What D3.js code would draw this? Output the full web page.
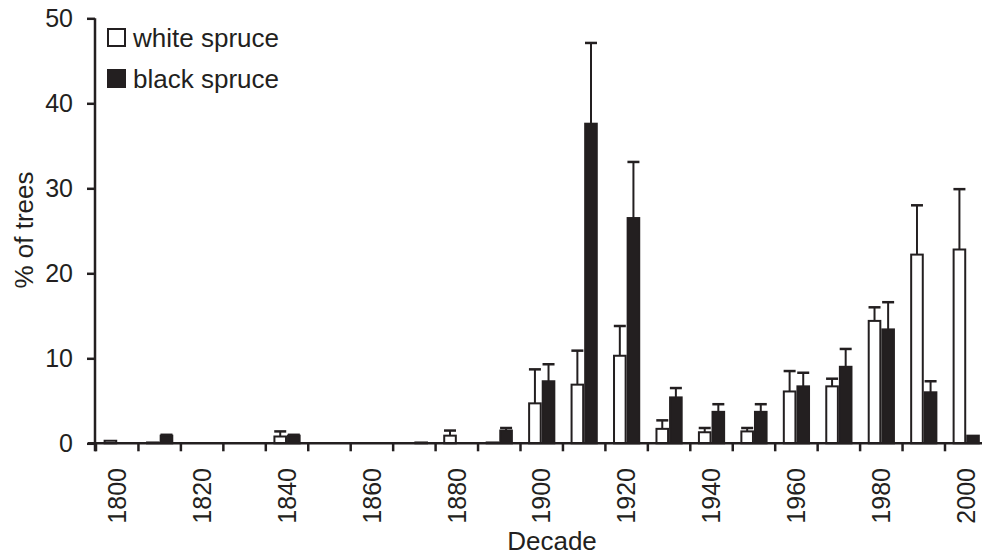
<!DOCTYPE html>
<html>
<head>
<meta charset="utf-8">
<script src="https://d3js.org/d3.v7.min.js"></script>
<style>
  html, body { margin: 0; padding: 0; background: #fff; }
  svg { display: block; }
  text { font-family: "Liberation Sans", Arial, Helvetica, sans-serif; fill: #231f20; }
</style>
</head>
<body>
<svg id="chart" width="982" height="556"></svg>
<script>
const decades = [1800, 1810, 1820, 1830, 1840, 1850, 1860, 1870, 1880, 1890, 1900,
                 1910, 1920, 1930, 1940, 1950, 1960, 1970, 1980, 1990, 2000];
const tickLabels = [1800, 1820, 1840, 1860, 1880, 1900, 1920, 1940, 1960, 1980, 2000];
const seriesNames = ["white spruce", "black spruce"];
const whiteSpruce    = [0.3, 0.1, 0, 0, 0.8, 0, 0, 0, 0.9, 0.1, 4.7, 6.9, 10.3, 1.7, 1.3, 1.4, 6.1, 6.7, 14.4, 22.2, 22.8];
const whiteSpruceErr = [0, 0, 0, 0, 0.6, 0, 0, 0, 0.6, 0, 4.0, 4.0, 3.5, 1.0, 0.5, 0.4, 2.4, 0.9, 1.6, 5.8, 7.1];
const blackSpruce    = [0, 0.9, 0, 0, 0.9, 0, 0, 0.1, 0, 1.5, 7.3, 37.6, 26.5, 5.4, 3.7, 3.7, 6.7, 9.0, 13.4, 6.0, 0.9];
const blackSpruceErr = [0, 0.1, 0, 0, 0.1, 0, 0, 0, 0, 0.3, 2.0, 9.5, 6.6, 1.1, 0.9, 0.9, 1.6, 2.1, 3.2, 1.3, 0];
const yTicks = [0, 10, 20, 30, 40, 50];

const ink = "#231f20";
const svg = d3.select("#chart");

const step = 42.45;
const x0 = 96;
const x = d3.scaleBand().domain(decades).range([x0, x0 + step * decades.length]).padding(0);
const sub = d3.scaleBand().domain(seriesNames).range([0, x.bandwidth()]).paddingInner(0).paddingOuter(0.56);
const y = d3.scaleLinear().domain([0, 50]).range([443.3, 18.3]);

const rows = decades.map((d, i) => ({
  decade: d,
  vals: [
    { s: seriesNames[0], v: whiteSpruce[i], e: whiteSpruceErr[i], fill: "#fff" },
    { s: seriesNames[1], v: blackSpruce[i], e: blackSpruceErr[i], fill: ink }
  ]
}));

// bars
const g = svg.append("g");
rows.forEach(r => {
  r.vals.forEach(b => {
    if (b.v <= 0) return;
    const bx = x(r.decade) + sub(b.s);
    g.append("rect")
      .attr("x", bx + 1)
      .attr("y", y(b.v))
      .attr("width", sub.bandwidth() - 2)
      .attr("height", y(0) - y(b.v))
      .attr("fill", b.fill)
      .attr("stroke", ink)
      .attr("stroke-width", 2);
  });
});
// error bars
rows.forEach(r => {
  r.vals.forEach(b => {
    if (b.v <= 0 || b.e <= 0) return;
    const cx = x(r.decade) + sub(b.s) + sub.bandwidth() / 2;
    g.append("line")
      .attr("x1", cx).attr("x2", cx)
      .attr("y1", y(b.v)).attr("y2", y(b.v + b.e))
      .attr("stroke", ink).attr("stroke-width", 2);
    g.append("line")
      .attr("x1", cx - 6).attr("x2", cx + 6)
      .attr("y1", y(b.v + b.e)).attr("y2", y(b.v + b.e))
      .attr("stroke", ink).attr("stroke-width", 2.5);
  });
});

// y axis
const yAxis = d3.axisLeft(y).tickValues(yTicks).tickSize(8).tickPadding(14).tickSizeOuter(0);
const ya = svg.append("g").attr("transform", `translate(${x0 - 1},0)`).call(yAxis);
ya.select(".domain").attr("stroke", ink).attr("stroke-width", 2.5)
  .attr("d", `M0,${y(50)}V${y(0) + 8}`);
ya.selectAll(".tick line").attr("stroke", ink).attr("stroke-width", 2.5);
ya.selectAll(".tick text").attr("font-size", 25).style("fill", ink)
  .attr("font-family", '"Liberation Sans", Arial, sans-serif');

// x axis line and boundary ticks
svg.append("line")
  .attr("x1", x0 - 8).attr("x2", x0 + step * decades.length)
  .attr("y1", y(0)).attr("y2", y(0))
  .attr("stroke", ink).attr("stroke-width", 2.5);
decades.forEach(d => {
  svg.append("line")
    .attr("x1", x(d)).attr("x2", x(d))
    .attr("y1", y(0)).attr("y2", y(0) + 8)
    .attr("stroke", ink).attr("stroke-width", 2.5);
});
// x tick labels
tickLabels.forEach(t => {
  const cx = x(t) + x.bandwidth() / 2;
  svg.append("text")
    .attr("transform", `translate(${cx},468) rotate(-90)`)
    .attr("text-anchor", "end")
    .attr("dy", "0.35em")
    .attr("font-size", 25)
    .text(t);
});

// axis titles
svg.append("text")
  .attr("transform", "translate(33,230) rotate(-90)")
  .attr("text-anchor", "middle")
  .attr("font-size", 26)
  .text("% of trees");
svg.append("text")
  .attr("x", 552).attr("y", 550)
  .attr("text-anchor", "middle")
  .attr("font-size", 26)
  .text("Decade");

// legend
const legend = svg.append("g");
seriesNames.forEach((s, i) => {
  const ly = 29 + i * 41;
  legend.append("rect")
    .attr("x", 108).attr("y", ly)
    .attr("width", 17).attr("height", 17)
    .attr("fill", i === 0 ? "#fff" : ink)
    .attr("stroke", ink).attr("stroke-width", 2);
  legend.append("text")
    .attr("x", 133).attr("y", ly + 18)
    .attr("font-size", 26)
    .text(s);
});
</script>
</body>
</html>
